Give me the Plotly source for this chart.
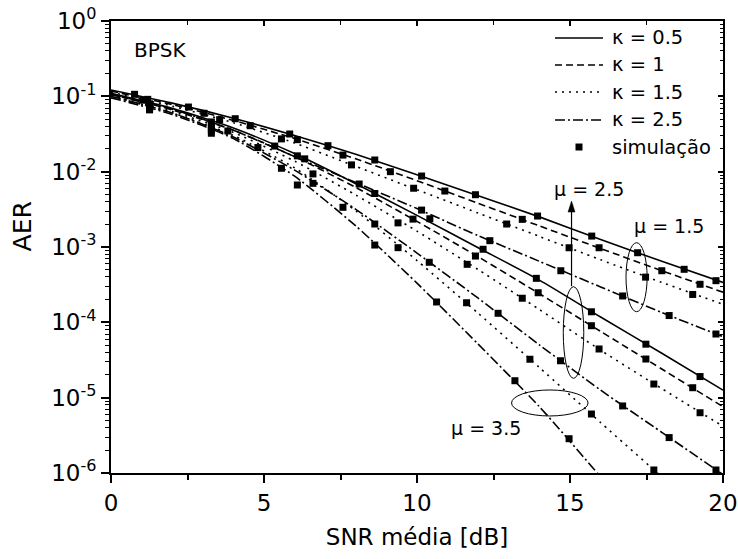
import numpy as np
import plotly.graph_objects as go

# SNR grid (dB) for the analytical curves
snr_db = [0, 2, 4, 6, 8, 10, 12, 14, 16, 18, 20]

# log10(AER) of the analytical curves, BPSK over kappa-mu fading
log_aer_mu15_k05 = [-0.916, -1.09, -1.29, -1.52, -1.77, -2.04, -2.32, -2.60, -2.90, -3.19, -3.47]
log_aer_mu15_k1 = [-0.93, -1.11, -1.32, -1.56, -1.83, -2.12, -2.42, -2.72, -3.02, -3.315, -3.60]
log_aer_mu15_k15 = [-0.945, -1.13, -1.35, -1.62, -1.93, -2.24, -2.55, -2.86, -3.17, -3.47, -3.76]
log_aer_mu15_k25 = [-0.975, -1.17, -1.45, -1.80, -2.145, -2.49, -2.85, -3.19, -3.53, -3.87, -4.19]
log_aer_mu25_k05 = [-0.96, -1.16, -1.42, -1.76, -2.16, -2.58, -3.01, -3.44, -3.93, -4.41, -4.90]
log_aer_mu25_k1 = [-0.975, -1.18, -1.45, -1.80, -2.21, -2.66, -3.13, -3.62, -4.12, -4.62, -5.12]
log_aer_mu25_k15 = [-0.99, -1.20, -1.48, -1.86, -2.31, -2.79, -3.30, -3.83, -4.37, -4.88, -5.38]
log_aer_mu25_k25 = [-1.00, -1.22, -1.54, -1.98, -2.50, -3.08, -3.68, -4.30, -4.90, -5.46, -6.02]
log_aer_mu35_k15 = [-1.00, -1.22, -1.52, -1.95, -2.52, -3.18, -3.88, -4.60, -5.33, -6.05, -6.75]
log_aer_mu35_k25 = [-1.02, -1.24, -1.56, -2.06, -2.72, -3.48, -4.29, -5.12, -6.05, -7.0, -7.9]

# Monte Carlo points: SNR (dB) and log10(AER)
sim_snr_mu15_k05 = [0.77, 2.53, 4.06, 5.84, 7.09, 8.62, 10.15, 11.91, 13.94, 15.71, 17.21, 18.73, 19.77]
sim_log_mu15_k05 = [-0.973, -1.142, -1.297, -1.50, -1.655, -1.845, -2.058, -2.306, -2.589, -2.855, -3.076, -3.296, -3.447]
sim_snr_mu15_k1 = [1.2, 3.04, 4.55, 6.09, 7.58, 9.13, 10.91, 13.44, 15.95, 18.0, 19.25]
sim_log_mu15_k1 = [-1.04, -1.225, -1.39, -1.575, -1.78, -2.0, -2.257, -2.633, -3.01, -3.315, -3.495]
sim_snr_mu15_k15 = [1.04, 3.55, 5.57, 7.86, 9.89, 12.93, 14.97, 17.47, 19.01]
sim_log_mu15_k15 = [-1.05, -1.31, -1.565, -1.91, -2.22, -2.695, -3.01, -3.40, -3.63]
sim_snr_mu15_k25 = [1.26, 3.28, 5.35, 8.11, 10.15, 12.38, 14.70, 16.72, 18.24, 19.77]
sim_log_mu15_k25 = [-1.10, -1.34, -1.66, -2.164, -2.51, -2.916, -3.315, -3.65, -3.91, -4.155]
sim_snr_mu25_k05 = [1.26, 3.28, 6.09, 8.62, 10.42, 12.16, 13.9, 15.7, 17.48, 19.25]
sim_log_mu25_k05 = [-1.13, -1.38, -1.79, -2.29, -2.625, -3.03, -3.416, -3.86, -4.29, -4.72]
sim_snr_mu25_k1 = [1.26, 3.28, 6.33, 9.87, 11.91, 13.96, 15.7, 17.48, 19.01]
sim_log_mu25_k1 = [-1.15, -1.42, -1.83, -2.63, -3.12, -3.607, -4.045, -4.487, -4.868]
sim_snr_mu25_k15 = [1.26, 3.82, 6.6, 9.38, 11.64, 13.44, 15.95, 17.74, 19.25]
sim_log_mu25_k15 = [-1.17, -1.46, -2.03, -2.68, -3.23, -3.68, -4.354, -4.819, -5.20]
sim_snr_mu25_k25 = [1.26, 4.8, 6.6, 8.62, 10.40, 12.65, 14.69, 16.72, 18.24, 19.77]
sim_log_mu25_k25 = [-1.18, -1.68, -2.155, -2.695, -3.203, -3.88, -4.51, -5.11, -5.53, -5.96]
sim_snr_mu35_k15 = [3.28, 5.57, 7.58, 9.38, 11.62, 13.69, 15.7, 17.74]
sim_log_mu35_k15 = [-1.45, -1.955, -2.473, -3.009, -3.74, -4.49, -5.217, -5.96]
sim_snr_mu35_k25 = [3.28, 6.09, 8.62, 10.64, 13.2, 14.97]
sim_log_mu35_k25 = [-1.49, -2.177, -2.974, -3.73, -4.775, -5.545]

kappa_labels = ["κ = 0.5", "κ = 1", "κ = 1.5", "κ = 2.5"]
sim_label = "simulação"

DASH = {
    "κ = 0.5": "solid",
    "κ = 1": "7px,4px",
    "κ = 1.5": "2px,5px",
    "κ = 2.5": "10px,3px,2px,3px",
}

curves = [
    ("κ = 0.5", log_aer_mu15_k05, sim_snr_mu15_k05, sim_log_mu15_k05),
    ("κ = 1", log_aer_mu15_k1, sim_snr_mu15_k1, sim_log_mu15_k1),
    ("κ = 1.5", log_aer_mu15_k15, sim_snr_mu15_k15, sim_log_mu15_k15),
    ("κ = 2.5", log_aer_mu15_k25, sim_snr_mu15_k25, sim_log_mu15_k25),
    ("κ = 0.5", log_aer_mu25_k05, sim_snr_mu25_k05, sim_log_mu25_k05),
    ("κ = 1", log_aer_mu25_k1, sim_snr_mu25_k1, sim_log_mu25_k1),
    ("κ = 1.5", log_aer_mu25_k15, sim_snr_mu25_k15, sim_log_mu25_k15),
    ("κ = 2.5", log_aer_mu25_k25, sim_snr_mu25_k25, sim_log_mu25_k25),
    ("κ = 1.5", log_aer_mu35_k15, sim_snr_mu35_k15, sim_log_mu35_k15),
    ("κ = 2.5", log_aer_mu35_k25, sim_snr_mu35_k25, sim_log_mu35_k25),
]

FONT = "DejaVu Sans, Verdana, sans-serif"
LINE_W = 1.6

fig = go.Figure()

for label, log_curve, _, _ in curves:
    fig.add_trace(go.Scatter(
        x=snr_db,
        y=10 ** np.array(log_curve),
        mode="lines",
        line=dict(color="black", width=LINE_W, dash=DASH[label], shape="spline", smoothing=0.6),
        name=label, showlegend=False, hoverinfo="skip",
    ))

sim_x = np.concatenate([c[2] for c in curves])
sim_y = 10 ** np.concatenate([c[3] for c in curves])
fig.add_trace(go.Scatter(
    x=sim_x, y=sim_y, mode="markers",
    marker=dict(symbol="square", size=7, color="black", line=dict(width=0)),
    name=sim_label, showlegend=False,
))

# mirrored frame: top / right axes with inward ticks
fig.add_trace(go.Scatter(x=[None], y=[None], xaxis="x2", yaxis="y2",
                         showlegend=False, hoverinfo="skip"))

decades = [10.0 ** k for k in range(-6, 1)]
minor_vals = [m * 10.0 ** k for k in range(-6, 0) for m in range(2, 10)]
y_ticktext = ["10<sup>%d</sup>" % k for k in range(-6, 1)]

axis_common = dict(showgrid=False, zeroline=False, linecolor="black", linewidth=1.8,
                   tickcolor="black", tickwidth=1.5, automargin=False)

fig.update_layout(
    width=738, height=559,
    margin=dict(l=111, r=15, t=21, b=86),
    paper_bgcolor="white", plot_bgcolor="white",
    font=dict(family=FONT, color="black"),
    showlegend=False,
    xaxis=dict(range=[0, 20], tickvals=[0, 5, 10, 15, 20], ticks="outside", ticklen=8,
               minor=dict(tickvals=[2.5, 7.5, 12.5, 17.5], ticks="outside", ticklen=5,
                          tickcolor="black", tickwidth=1.5),
               tickfont=dict(size=23), title=dict(text="SNR média [dB]", font=dict(size=23), standoff=14),
               **axis_common),
    yaxis=dict(type="log", range=[-6, 0], tickvals=decades, ticktext=y_ticktext,
               ticks="outside", ticklen=8,
               minor=dict(tickvals=minor_vals, ticks="outside", ticklen=4,
                          tickcolor="black", tickwidth=1.2),
               tickfont=dict(size=23), **axis_common),
    xaxis2=dict(overlaying="x", side="top", anchor="y2", range=[0, 20],
                tickvals=[0, 5, 10, 15, 20], ticks="inside", ticklen=5, showticklabels=False,
                minor=dict(tickvals=[2.5, 7.5, 12.5, 17.5], ticks="inside", ticklen=4,
                           tickcolor="black", tickwidth=1.2),
                **axis_common),
    yaxis2=dict(overlaying="y", side="right", anchor="x2", type="log", range=[-6, 0],
                tickvals=decades, ticks="inside", ticklen=5, showticklabels=False,
                minor=dict(tickvals=minor_vals, ticks="inside", ticklen=3,
                           tickcolor="black", tickwidth=1.2),
                **axis_common),
)

# y-axis title
fig.add_annotation(x=-0.145, y=0.546, xref="paper", yref="paper", text="AER", textangle=-90,
                   showarrow=False, xanchor="center", yanchor="middle",
                   font=dict(size=25, family=FONT, color="black"))

# legend block (top right of the plot area)
legend_rows_y = [0.9624, 0.9027, 0.8429, 0.7810, 0.7212]
sample_x0, sample_x1, text_x = 0.7255, 0.8039, 0.8154
for label, ry in zip(kappa_labels, legend_rows_y[:4]):
    fig.add_shape(type="line", xref="paper", yref="paper", x0=sample_x0, x1=sample_x1,
                  y0=ry, y1=ry, line=dict(color="black", width=LINE_W, dash=DASH[label]))
    fig.add_annotation(x=text_x, y=ry, xref="paper", yref="paper", text=label, showarrow=False,
                       xanchor="left", yanchor="middle", font=dict(size=19.5, family=FONT, color="black"))
fig.add_shape(type="rect", xref="paper", yref="paper", xsizemode="pixel", ysizemode="pixel",
              xanchor=(sample_x0 + sample_x1) / 2, yanchor=legend_rows_y[4],
              x0=-3.5, x1=3.5, y0=-3.5, y1=3.5, fillcolor="black", line=dict(width=0))
fig.add_annotation(x=text_x, y=legend_rows_y[4], xref="paper", yref="paper", text=sim_label,
                   showarrow=False, xanchor="left", yanchor="middle",
                   font=dict(size=19.5, family=FONT, color="black"))

# fading-parameter groups
ellipses = [
    (16.83, 17.52, 10 ** -2.943, 10 ** -3.859),
    (14.78, 15.45, 10 ** -3.527, 10 ** -4.743),
    (13.09, 15.59, 10 ** -4.898, 10 ** -5.243),
]
for x0, x1, y0, y1 in ellipses:
    fig.add_shape(type="circle", xref="x", yref="y", x0=x0, x1=x1, y0=y0, y1=y1,
                  line=dict(color="black", width=1))

# arrow from the mu = 2.5 group up to its label
arrow_x, arrow_tail, arrow_tip = 15.05, 10 ** -3.52, 10 ** -2.39
fig.add_shape(type="line", xref="x", yref="y", x0=arrow_x, x1=arrow_x,
              y0=arrow_tail, y1=10 ** -2.50, line=dict(color="black", width=1.2))
fig.add_shape(type="path", xref="x", yref="y", xsizemode="pixel", ysizemode="pixel",
              xanchor=arrow_x, yanchor=arrow_tip, path="M -3.5,-11 L 0,0 L 3.5,-11 Z",
              fillcolor="black", line=dict(color="black", width=0.5))

labels = [
    ("BPSK", 1.59, -0.385, 20),
    ("μ = 2.5", 15.62, -2.23, 19),
    ("μ = 1.5", 18.23, -2.72, 19),
    ("μ = 3.5", 12.25, -5.40, 19),
]
for text, x, ly, size in labels:
    fig.add_annotation(x=x, y=ly, xref="x", yref="y", text=text, showarrow=False,
                       font=dict(size=size, family=FONT, color="black"))

fig.write_html("out.html")
